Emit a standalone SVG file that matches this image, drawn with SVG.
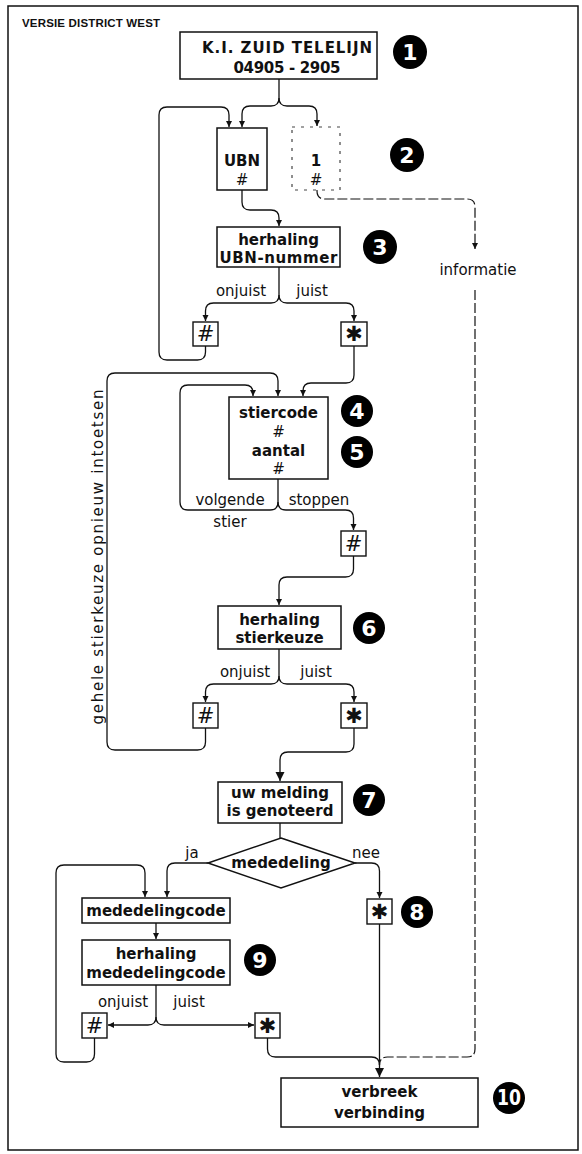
<svg xmlns="http://www.w3.org/2000/svg" width="582" height="1154" viewBox="0 0 582 1154">
<style>
.bx{fill:#fff;stroke:#111;stroke-width:1.5}
.kb{fill:#fff;stroke:#111;stroke-width:1.4}
.ln{fill:none;stroke:#111;stroke-width:1.3}
.ds{fill:none;stroke:#111;stroke-width:1.2;stroke-dasharray:10 3}
.bt{font-family:"DejaVu Sans",sans-serif;font-weight:bold;font-size:15px;fill:#111;text-anchor:middle}
.lb{font-family:"DejaVu Sans",sans-serif;font-size:15px;fill:#111;text-anchor:middle}
.ky{font-family:"DejaVu Sans",sans-serif;font-size:21px;fill:#111;text-anchor:middle}
.hs{font-style:italic}
.cn{fill:#000}
.ct{font-family:"DejaVu Sans",sans-serif;font-weight:bold;font-size:22px;fill:#fff;text-anchor:middle}
</style>
<defs>
<marker id="ah" markerUnits="userSpaceOnUse" markerWidth="7" markerHeight="7" refX="6" refY="3" orient="auto">
<path d="M0,0 L6,3 L0,6 z" fill="#111"/>
</marker>
<marker id="ahb" markerUnits="userSpaceOnUse" markerWidth="10" markerHeight="10" refX="9" refY="4.5" orient="auto">
<path d="M0,0 L9,4.5 L0,9 z" fill="#111"/>
</marker>
</defs>
<rect x="8" y="6" width="570" height="1144" fill="#fff" stroke="#111" stroke-width="1.5"/>
<text x="22" y="27" font-family="Liberation Sans,sans-serif" font-weight="bold" font-size="11.5" textLength="138" fill="#111">VERSIE DISTRICT WEST</text>

<g id="connectors">
<path class="ln" marker-end="url(#ah)" d="M279,79 V98 Q279,106 271,106 H250 Q242,106 242,114 V127"/>
<path class="ln" marker-end="url(#ah)" d="M279,98 Q279,106 287,106 H309 Q317,106 317,114 V126"/>
<path class="ln" marker-end="url(#ah)" d="M205.5,346 V352 Q205.5,360 197.5,360 H167 Q159,360 159,352 V115 Q159,107 167,107 H221 Q229,107 229,115 V127"/>
<path class="ln" marker-end="url(#ah)" d="M242,190 V202 Q242,210 250,210 H271 Q279,210 279,218 V226"/>
<path class="ln" marker-end="url(#ah)" d="M279,267 V295 Q279,303 271,303 H213.5 Q205.5,303 205.5,311 V321"/>
<path class="ln" marker-end="url(#ah)" d="M279,295 Q279,303 287,303 H346 Q354,303 354,311 V321"/>
<path class="ln" marker-end="url(#ah)" d="M354,346 V375 Q354,383 346,383 H311 Q303,383 303,391 V396"/>
<path class="ln" marker-end="url(#ah)" d="M205.5,728 V742 Q205.5,750 197.5,750 H115 Q107,750 107,742 V381 Q107,373 115,373 H270 Q278,373 278,381 V396"/>
<path class="ln" marker-end="url(#ah)" d="M278,479 V502 Q278,510 270,510 H188 Q180,510 180,502 V393 Q180,385 188,385 H245 Q253,385 253,393 V396"/>
<path class="ln" marker-end="url(#ah)" d="M278,502 Q278,510 286,510 H345.5 Q353.5,510 353.5,518 V530"/>
<path class="ln" marker-end="url(#ah)" d="M353.5,556 V569 Q353.5,577 345.5,577 H287 Q279,577 279,585 V605"/>
<path class="ln" marker-end="url(#ah)" d="M279,649 V676 Q279,684 271,684 H213.5 Q205.5,684 205.5,692 V702"/>
<path class="ln" marker-end="url(#ah)" d="M279,676 Q279,684 287,684 H346 Q354,684 354,692 V702"/>
<path class="ln" marker-end="url(#ahb)" d="M354,728 V744 Q354,752 346,752 H288 Q280,752 280,760 V781"/>
<path class="ln" d="M280,823 V838"/>
<path class="ln" marker-end="url(#ah)" d="M208,863 H175 Q167,863 167,871 V897"/>
<path class="ln" marker-end="url(#ah)" d="M94.5,1038 V1054 Q94.5,1062 86.5,1062 H64 Q56,1062 56,1054 V873 Q56,865 64,865 H137 Q145,865 145,873 V897"/>
<path class="ln" marker-end="url(#ah)" d="M355,863 H371.5 Q379.5,863 379.5,871 V898"/>
<path class="ln" marker-end="url(#ah)" d="M156,923 V939"/>
<path class="ln" marker-end="url(#ah)" d="M156,985 V1017 Q156,1025 148,1025 H108"/>
<path class="ln" marker-end="url(#ah)" d="M156,1017 Q156,1025 164,1025 H254"/>
<path class="ln" d="M267.5,1038 V1049 Q267.5,1057 275.5,1057 H371.5 Q379.5,1057 379.5,1065"/>
<path class="ln" marker-end="url(#ahb)" d="M379.5,924 V1077"/>
<path class="ds" marker-end="url(#ah)" d="M317,190 V191 Q317,199 325,199 H467 Q475,199 475,207 V249"/>
<path class="ds" d="M475,290 V1049 Q475,1057 467,1057 H387.5 Q379.5,1057 379.5,1065"/>
</g>

<g id="n1">
<rect class="bx" x="180" y="32" width="197" height="47"/>
<text class="bt" x="287" y="53" font-size="16" textLength="170">K.I. ZUID TELELIJN</text>
<text class="bt" x="287" y="73" font-size="16" textLength="107">04905 - 2905</text>
</g>
<g id="c1"><circle class="cn" cx="410" cy="52" r="17"/><text class="ct" x="410" y="60">1</text></g>

<g id="n2a">
<rect class="bx" x="217" y="128" width="50" height="62"/>
<text class="bt" x="242" y="166">UBN</text>
<text class="lb hs" x="242" y="185" font-size="16">#</text>
</g>
<g id="n2b">
<rect x="292" y="127" width="48" height="63" fill="none" stroke="#444" stroke-width="1.2" stroke-dasharray="3 6"/>
<text class="bt" x="316" y="166">1</text>
<text class="lb hs" x="316" y="185" font-size="16">#</text>
</g>
<g id="c2"><circle class="cn" cx="407" cy="155" r="17"/><text class="ct" x="407" y="163">2</text></g>

<g id="n3">
<rect class="bx" x="217" y="227" width="123" height="40"/>
<text class="bt" x="278.5" y="245">herhaling</text>
<text class="bt" x="278.5" y="263" textLength="118">UBN-nummer</text>
</g>
<g id="c3"><circle class="cn" cx="380" cy="247" r="17"/><text class="ct" x="380" y="255">3</text></g>
<text class="lb" x="241" y="296">onjuist</text>
<text class="lb" x="312" y="296">juist</text>
<g id="k3a"><rect class="kb" x="193" y="322" width="25" height="24"/><text class="ky hs" x="205.5" y="341">#</text></g>
<g id="k3b"><rect class="kb" x="341" y="322" width="26" height="24"/><text class="ky" x="354" y="341">✱</text></g>

<g id="informatie"><text class="lb" x="478" y="275">informatie</text></g>

<g id="n4">
<rect class="bx" x="229" y="397" width="99" height="82"/>
<text class="bt" x="278.5" y="418">stiercode</text>
<text class="lb hs" x="278.5" y="437" font-size="16">#</text>
<text class="bt" x="278.5" y="456">aantal</text>
<text class="lb hs" x="278.5" y="474" font-size="16">#</text>
</g>
<g id="c4"><circle class="cn" cx="357" cy="411" r="16"/><text class="ct" x="357" y="419">4</text></g>
<g id="c5"><circle class="cn" cx="357" cy="452" r="16"/><text class="ct" x="357" y="460">5</text></g>
<text class="lb" x="230" y="505">volgende</text>
<text class="lb" x="230" y="527">stier</text>
<text class="lb" x="319" y="505">stoppen</text>
<g id="k5"><rect class="kb" x="341" y="531" width="25" height="25"/><text class="ky hs" x="353.5" y="551">#</text></g>

<text class="lb" font-size="16" transform="translate(103,557) rotate(-90)" x="0" y="0" textLength="335">gehele stierkeuze opnieuw intoetsen</text>

<g id="n6">
<rect class="bx" x="218" y="606" width="123" height="43"/>
<text class="bt" x="279.5" y="625">herhaling</text>
<text class="bt" x="279.5" y="643">stierkeuze</text>
</g>
<g id="c6"><circle class="cn" cx="369" cy="628" r="16"/><text class="ct" x="369" y="636">6</text></g>
<text class="lb" x="245" y="677">onjuist</text>
<text class="lb" x="316" y="677">juist</text>
<g id="k6a"><rect class="kb" x="193" y="703" width="25" height="25"/><text class="ky hs" x="205.5" y="723">#</text></g>
<g id="k6b"><rect class="kb" x="341" y="703" width="26" height="25"/><text class="ky" x="354" y="723">✱</text></g>

<g id="n7">
<rect class="bx" x="218" y="782" width="124" height="41"/>
<text class="bt" x="280" y="798">uw melding</text>
<text class="bt" x="280" y="816">is genoteerd</text>
</g>
<g id="c7"><circle class="cn" cx="369" cy="800" r="16"/><text class="ct" x="369" y="808">7</text></g>

<g id="d1">
<polygon points="281,838 355,863 281,888 208,863" fill="#fff" stroke="#111" stroke-width="1.5"/>
<text class="bt" x="281" y="868">mededeling</text>
</g>
<text class="lb" x="192" y="858">ja</text>
<text class="lb" x="366" y="858">nee</text>

<g id="n8a">
<rect class="bx" x="82" y="898" width="148" height="25"/>
<text class="bt" x="156" y="916" font-size="14">mededelingcode</text>
</g>
<g id="k8"><rect class="kb" x="367" y="899" width="25" height="25"/><text class="ky" x="379.5" y="919">✱</text></g>
<g id="c8"><circle class="cn" cx="417" cy="912" r="16"/><text class="ct" x="417" y="920">8</text></g>

<g id="n9">
<rect class="bx" x="82" y="940" width="148" height="45"/>
<text class="bt" x="156" y="959" font-size="14">herhaling</text>
<text class="bt" x="156" y="978" font-size="14">mededelingcode</text>
</g>
<g id="c9"><circle class="cn" cx="260" cy="960" r="16"/><text class="ct" x="260" y="968">9</text></g>
<text class="lb" x="123" y="1007">onjuist</text>
<text class="lb" x="189" y="1007">juist</text>
<g id="k9a"><rect class="kb" x="82" y="1013" width="25" height="25"/><text class="ky hs" x="94.5" y="1033">#</text></g>
<g id="k9b"><rect class="kb" x="255" y="1013" width="25" height="25"/><text class="ky" x="267.5" y="1033">✱</text></g>

<g id="n10">
<rect class="bx" x="281" y="1078" width="197" height="49"/>
<text class="bt" x="379.5" y="1097">verbreek</text>
<text class="bt" x="379.5" y="1118">verbinding</text>
</g>
<g id="c10"><circle class="cn" cx="509" cy="1098" r="16"/><text class="ct" x="509" y="1105" font-size="19" textLength="24" lengthAdjust="spacingAndGlyphs">10</text></g>
</svg>
